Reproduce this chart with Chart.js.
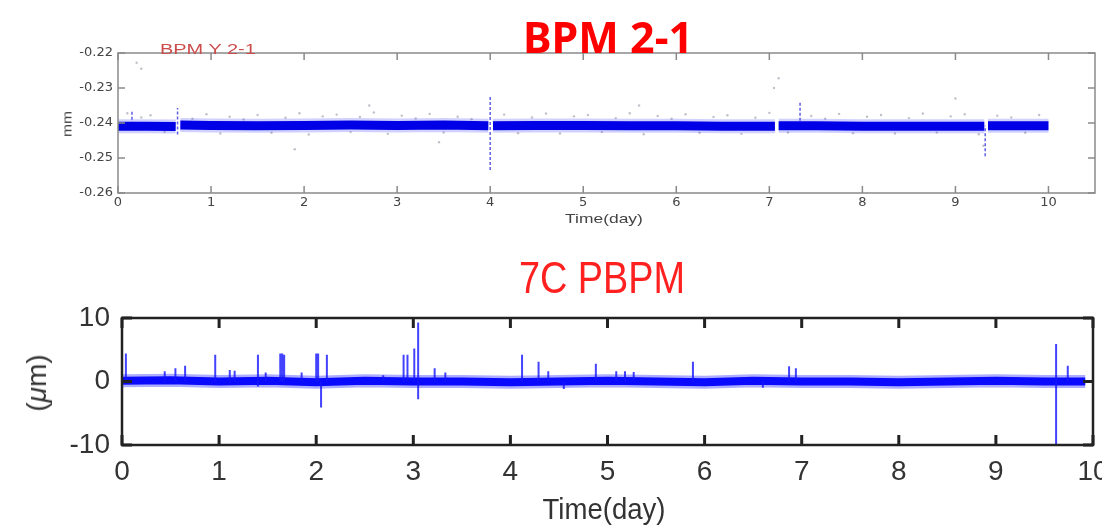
<!DOCTYPE html>
<html>
<head>
<meta charset="utf-8">
<script src="https://cdn.jsdelivr.net/npm/chart.js@4.4.1/dist/chart.umd.min.js"></script>
<style>
    html, body { margin: 0; padding: 0; background: #fff; }
    #wrap { position: relative; width: 1102px; height: 526px; overflow: hidden; }
    canvas { position: absolute; left: 0; }
    .lbl { position: absolute; white-space: nowrap; line-height: 1; }
</style>
</head>
<body>
<div id="wrap">
    <canvas id="bpmChart" width="1102" height="240" style="top:0"></canvas>
    <canvas id="pbpmChart" width="1102" height="286" style="top:240px"></canvas>

    <div class="lbl" style="left:608px;top:7px;font:bold 43px 'Noto Sans';color:#ff0000;transform:translateX(-50%)">BPM 2-1</div>
    <div class="lbl" style="left:160px;top:40px;font:15px 'Liberation Sans';color:#cc4b4b;transform-origin:left;transform:scaleX(1.33)">BPM Y 2-1</div>
    <div class="lbl" style="left:604px;top:211px;font:13px 'Liberation Sans';color:#444;transform:translateX(-50%) scaleX(1.34)">Time(day)</div>
    <div class="lbl" style="left:67px;top:124px;font:13px 'Liberation Sans';color:#444;transform:translate(-50%,-50%) rotate(-90deg) scaleX(1.2)">mm</div>

    <div class="lbl" style="left:602px;top:253px;font:44px 'Liberation Sans';color:#ff2020;transform:translateX(-50%) scaleX(0.86)">7C PBPM</div>
    <div class="lbl" style="left:604px;top:493px;font:29px 'Liberation Sans';color:#333;transform:translateX(-50%) scaleX(0.95)">Time(day)</div>
    <div class="lbl" style="left:37px;top:383px;font:28px 'Liberation Sans';color:#333;transform:translate(-50%,-50%) rotate(-90deg)">(<i>μ</i>m)</div>
</div>

<script>
// ---- BPM Y 2-1 (top panel), values in mm ----
const bpmBandX = [0, 0.3, 0.62, 0.645, 0.67, 1.0, 1.5, 2.0, 2.5, 3.0, 3.5, 3.98, 4.0,
    4.03, 4.5, 5.0, 5.5, 6.0, 6.5, 7.06, 7.08, 7.1, 7.5, 8.0, 8.5, 9.0, 9.31, 9.33, 9.35, 10.0];
const bpmBandY = [-0.2409, -0.2409, -0.2410, null, -0.2406, -0.2407, -0.2408, -0.2407, -0.2406, -0.2407, -0.2406, -0.2408, null,
    -0.2408, -0.2407, -0.2407, -0.2408, -0.2408, -0.2409, -0.2409, null, -0.2408, -0.2408, -0.2409, -0.2409, -0.2409, -0.2409, null, -0.2408, -0.2408];

const bpmSpikeX = [0.15, 0.64, 4.0, 7.33, 9.32];
const bpmSpikeTop = [-0.2365, -0.2357, -0.2323, -0.2342, -0.2408];
const bpmSpikeBottom = [-0.2405, -0.2433, -0.2534, -0.2408, -0.2495];

const bpmDotX = [0.1, 0.25, 0.35, 0.5, 0.8, 0.95, 1.1, 1.2, 1.35, 1.5, 1.65, 1.8, 1.95, 2.05, 2.2, 2.35, 2.5, 2.6,
    2.75, 2.9, 3.05, 3.2, 3.35, 3.5, 3.65, 3.8, 4.15, 4.3, 4.45, 4.6, 4.75, 4.9, 5.05, 5.2, 5.35, 5.5, 5.65,
    5.8, 5.95, 6.1, 6.25, 6.4, 6.55, 6.7, 6.85, 7.0, 7.2, 7.45, 7.6, 7.75, 7.9, 8.05, 8.2, 8.35, 8.5, 8.65,
    8.8, 8.95, 9.1, 9.25, 9.45, 9.6, 9.75, 9.9,
    0.2, 0.25, 1.9, 3.45, 7.05, 7.1, 9.0, 9.3, 5.6, 2.7];
const bpmDotY = [-0.2372, -0.2384, -0.2378, -0.2425, -0.2388, -0.2375, -0.2430, -0.2382, -0.2390, -0.2377, -0.2428,
    -0.2385, -0.2372, -0.2433, -0.2381, -0.2376, -0.2426, -0.2383, -0.2370, -0.2431, -0.2379, -0.2387, -0.2374,
    -0.2427, -0.2382, -0.2389, -0.2376, -0.2429, -0.2384, -0.2373, -0.2430, -0.2381, -0.2377, -0.2426, -0.2386,
    -0.2372, -0.2432, -0.2380, -0.2388, -0.2375, -0.2428, -0.2383, -0.2378, -0.2431, -0.2385, -0.2371, -0.2427,
    -0.2380, -0.2388, -0.2374, -0.2429, -0.2382, -0.2377, -0.2430, -0.2386, -0.2373, -0.2427, -0.2381, -0.2375,
    -0.2432, -0.2379, -0.2384, -0.2428, -0.2377,
    -0.2228, -0.2245, -0.2475, -0.2455, -0.2300, -0.2272, -0.2330, -0.2465, -0.2350, -0.2350];

const bpmYTicks = [-0.26, -0.25, -0.24, -0.23, -0.22];

// ---- 7C PBPM (bottom panel), values in um ----
const pbpmBandX = [0, 0.5, 1.0, 1.5, 2.0, 2.5, 3.0, 3.5, 4.0, 4.5, 5.0, 5.5, 6.0, 6.5, 7.0, 7.5, 8.0, 8.5, 9.0, 9.5, 9.92];
const pbpmBandY = [0.1, 0.2, 0.0, 0.1, -0.1, 0.1, 0.0, 0.0, -0.1, 0.0, 0.1, 0.0, -0.1, 0.1, 0.0, 0.0, -0.1, 0.0, 0.1, 0.0, 0.0];

const pbpmSpikeX = [0.04, 0.44, 0.55, 0.65, 0.96, 1.11, 1.16, 1.40, 1.48, 1.63, 1.65, 1.67, 1.85, 2.0, 2.02, 2.05,
    2.11, 2.69, 2.90, 2.94, 3.01, 3.05, 3.22, 3.33, 4.12, 4.29, 4.39, 4.55, 4.88, 5.09, 5.18, 5.27, 5.88,
    6.6, 6.87, 6.94, 9.62, 9.74];
const pbpmSpikeTop = [4.4, 1.6, 2.1, 2.5, 4.2, 1.8, 1.7, 4.2, 1.4, 4.4, 4.4, 4.2, 1.4, 4.4, 4.4, 0,
    4.2, 1.0, 4.2, 4.2, 5.2, 9.3, 2.1, 1.4, 4.2, 3.1, 1.6, 0, 2.8, 1.6, 1.6, 1.5, 3.1,
    0, 2.4, 2.1, 5.9, 2.5];
const pbpmSpikeBottom = [0, 0, 0, 0, 0, 0, 0, -0.8, 0, 0, 0, 0, 0, 0, 0, -4.1,
    0, 0, 0, 0, 0, -2.8, 0, 0, 0, 0, 0, -1.2, 0, 0, 0, 0, 0,
    -1.0, 0, 0, -10, 0];

const pbpmYTicks = [-10, 0, 10];
const integerDays = [0, 1, 2, 3, 4, 5, 6, 7, 8, 9, 10];

// Build x/y points, null breaks the line
function toPoints(xs, ys) {
    return xs.map((x, i) => ({ x: x, y: ys[i] }));
}

// Vertical spikes as separate segments
function spikeSegments(xs, tops, bottoms) {
    const pts = [];
    xs.forEach((x, i) => {
        pts.push({ x: x, y: bottoms[i] }, { x: x, y: tops[i] }, { x: x, y: null });
    });
    return pts;
}

// Frame and inward tick marks, MATLAB style
const frameTicks = {
    id: 'frameTicks',
    afterDatasetsDraw(chart, args, opts) {
        const { ctx, chartArea: a, scales } = chart;
        const xs = scales.x, ys = scales.y;
        ctx.save();
        ctx.strokeStyle = opts.color;
        ctx.lineWidth = opts.tickWidth;
        ctx.beginPath();
        xs.ticks.forEach(t => {
            const px = xs.getPixelForValue(t.value);
            ctx.moveTo(px, a.top); ctx.lineTo(px, a.top + opts.len);
            ctx.moveTo(px, a.bottom); ctx.lineTo(px, a.bottom - opts.len);
        });
        ys.ticks.forEach(t => {
            const py = ys.getPixelForValue(t.value);
            ctx.moveTo(a.left, py); ctx.lineTo(a.left + opts.len, py);
            ctx.moveTo(a.right, py); ctx.lineTo(a.right - opts.len, py);
        });
        ctx.stroke();
        ctx.lineWidth = opts.frameWidth;
        ctx.strokeRect(a.left, a.top, a.right - a.left, a.bottom - a.top);
        ctx.restore();
    }
};

function onlyValues(values) {
    return scale => {
        scale.ticks = values.map(v => ({ value: v }));
    };
}

// Fixed axis size, no extra room for labels that stick out
function fixSize(w, h) {
    return s => {
        if (w !== null) s.width = w;
        if (h !== null) s.height = h;
        s.paddingLeft = 0;
        s.paddingRight = 0;
        s.paddingTop = 0;
        s.paddingBottom = 0;
    };
}

// Top chart
new Chart(document.getElementById('bpmChart'), {
    type: 'scatter',
    data: {
        datasets: [
            {
                data: toPoints(bpmBandX, bpmBandY),
                showLine: true,
                borderColor: '#0000e6',
                borderWidth: 9,
                pointRadius: 0,
                order: 1
            },
            {
                data: toPoints(bpmBandX, bpmBandY),
                showLine: true,
                borderColor: 'rgba(70, 70, 255, 0.25)',
                borderWidth: 14,
                pointRadius: 0,
                order: 2
            },
            {
                data: spikeSegments(bpmSpikeX, bpmSpikeTop, bpmSpikeBottom),
                showLine: true,
                borderColor: 'rgba(40, 40, 220, 0.75)',
                borderWidth: 1.5,
                borderDash: [3, 2],
                pointRadius: 0,
                order: 3
            },
            {
                data: toPoints(bpmDotX, bpmDotY),
                pointRadius: 1.2,
                pointBorderWidth: 0,
                backgroundColor: 'rgba(130, 130, 150, 0.5)',
                order: 4
            }
        ]
    },
    options: {
        responsive: false,
        animation: false,
        layout: { padding: { top: 53, right: 7, left: 0, bottom: 0 } },
        plugins: {
            legend: { display: false },
            tooltip: { enabled: false },
            frameTicks: { color: '#8a8a8a', tickWidth: 1.5, len: 7, frameWidth: 1.5 }
        },
        scales: {
            x: {
                type: 'linear',
                min: 0,
                max: 10.5,
                afterBuildTicks: onlyValues(integerDays),
                afterFit: fixSize(null, 47),
                grid: { display: false, drawTicks: false },
                border: { display: false },
                ticks: {
                    padding: 2,
                    color: '#444',
                    font: { family: 'DejaVu Sans', size: 13 },
                    callback: v => String(v)
                }
            },
            y: {
                type: 'linear',
                min: -0.26,
                max: -0.22,
                afterBuildTicks: onlyValues(bpmYTicks),
                afterFit: fixSize(118, null),
                grid: { display: false, drawTicks: false },
                border: { display: false },
                ticks: {
                    padding: 5,
                    color: '#444',
                    font: { family: 'DejaVu Sans', size: 13 },
                    callback: v => v.toFixed(2)
                }
            }
        }
    },
    plugins: [frameTicks]
});

// Bottom chart
new Chart(document.getElementById('pbpmChart'), {
    type: 'scatter',
    data: {
        datasets: [
            {
                data: toPoints(pbpmBandX, pbpmBandY),
                showLine: true,
                borderColor: '#0a0aff',
                borderWidth: 8,
                pointRadius: 0,
                order: 2
            },
            {
                data: toPoints(pbpmBandX, pbpmBandY),
                showLine: true,
                borderColor: 'rgba(20, 20, 255, 0.35)',
                borderWidth: 13,
                pointRadius: 0,
                order: 3
            },
            {
                data: spikeSegments(pbpmSpikeX, pbpmSpikeTop, pbpmSpikeBottom),
                showLine: true,
                borderColor: 'rgba(20, 20, 255, 0.8)',
                borderWidth: 2,
                pointRadius: 0,
                order: 1
            }
        ]
    },
    options: {
        responsive: false,
        animation: false,
        layout: { padding: { top: 78, right: 9, left: 0, bottom: 0 } },
        plugins: {
            legend: { display: false },
            tooltip: { enabled: false },
            frameTicks: { color: '#222', tickWidth: 3, len: 10, frameWidth: 2.5 }
        },
        scales: {
            x: {
                type: 'linear',
                min: 0,
                max: 10,
                afterBuildTicks: onlyValues(integerDays),
                afterFit: fixSize(null, 81),
                grid: { display: false, drawTicks: false },
                border: { display: false },
                ticks: {
                    padding: 10,
                    color: '#333',
                    font: { family: 'Liberation Sans', size: 28 },
                    callback: v => String(v)
                }
            },
            y: {
                type: 'linear',
                min: -10,
                max: 10,
                afterBuildTicks: onlyValues(pbpmYTicks),
                afterFit: fixSize(122, null),
                grid: { display: false, drawTicks: false },
                border: { display: false },
                ticks: {
                    padding: 12,
                    color: '#333',
                    font: { family: 'Liberation Sans', size: 28 },
                    callback: v => String(v)
                }
            }
        }
    },
    plugins: [frameTicks]
});
</script>
</body>
</html>
